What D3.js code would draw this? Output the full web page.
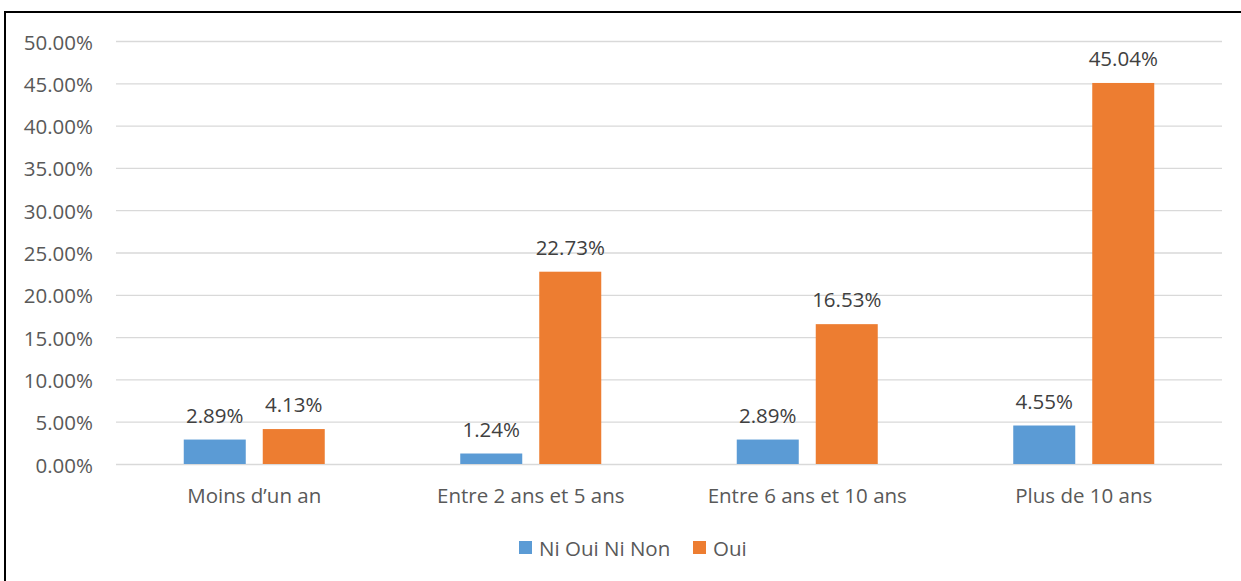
<!DOCTYPE html>
<html><head><meta charset="utf-8">
<script src="https://cdn.jsdelivr.net/npm/d3@7"></script>
<style>html,body{margin:0;padding:0;background:#fff;}svg{display:block;}</style>
</head><body>
<svg id="chart" width="1241" height="581"></svg>
<script>
const categories = ["Moins d\u2019un an", "Entre 2 ans et 5 ans", "Entre 6 ans et 10 ans", "Plus de 10 ans"];
const seriesNames = ["Ni Oui Ni Non", "Oui"];
const niOuiNiNon = [2.89, 1.24, 2.89, 4.55];
const oui = [4.13, 22.73, 16.53, 45.04];
const yTicks = [0, 5, 10, 15, 20, 25, 30, 35, 40, 45, 50];
const colors = ["#5B9BD5", "#ED7D31"];

(function () {
const FONT = "'Open Sans', sans-serif";
const FS = "20.5px";
const svg = d3.select("#chart");
svg.append("rect").attr("x", 5).attr("y", 12).attr("width", 1250).attr("height", 600)
  .attr("fill", "none").attr("stroke", "#000").attr("stroke-width", 2);

const mLeft = 116, mRight = 1222, mTop = 41, mBottom = 464;
const GW = 141;
const x = d3.scaleBand().domain(categories).range([mLeft, mRight]).paddingInner(0).paddingOuter(0);
const y = d3.scaleLinear().domain([0, 50]).range([mBottom, mTop]);
const inner = d3.scaleBand().domain(seriesNames).range([0, GW]).paddingInner(17 / 79).paddingOuter(0);

const yAxis = d3.axisLeft(y).tickValues(yTicks).tickSize(-(mRight - mLeft)).tickFormat(d => d.toFixed(2) + "%").tickPadding(23);
const ga = svg.append("g").attr("transform", `translate(${mLeft},0)`).call(yAxis);
ga.select(".domain").remove();
ga.selectAll(".tick line").attr("stroke", "#d9d9d9").attr("stroke-width", 1.3);
ga.selectAll(".tick text").attr("fill", "#595959").style("font-family", FONT).style("font-size", FS)
  .attr("dy", null).attr("dominant-baseline", "central");

const data = categories.map((c, i) => ({ cat: c, vals: [niOuiNiNon[i], oui[i]] }));
const groups = svg.selectAll("g.cat").data(data).join("g").attr("class", "cat")
  .attr("transform", d => `translate(${x(d.cat) + (x.bandwidth() - GW) / 2},0)`);
groups.selectAll("rect").data(d => d.vals.map((v, j) => ({ v, s: seriesNames[j], j })))
  .join("rect")
  .attr("x", d => inner(d.s)).attr("width", inner.bandwidth())
  .attr("y", d => y(d.v)).attr("height", d => y(0) - y(d.v))
  .attr("fill", d => colors[d.j]);
groups.selectAll("text").data(d => d.vals.map((v, j) => ({ v, s: seriesNames[j], j })))
  .join("text")
  .attr("x", d => inner(d.s) + inner.bandwidth() / 2)
  .attr("y", d => y(d.v) - 25)
  .attr("text-anchor", "middle").attr("dominant-baseline", "central")
  .attr("fill", "#404040").style("font-family", FONT).style("font-size", FS)
  .text(d => d.v.toFixed(2) + "%");

const xAxis = d3.axisBottom(x).tickSize(0);
const gx = svg.append("g").attr("transform", `translate(0,${mBottom})`).call(xAxis);
gx.select(".domain").remove();
gx.selectAll(".tick text").attr("fill", "#595959").style("font-family", FONT).style("font-size", FS)
  .attr("y", 31).attr("dy", null).attr("dominant-baseline", "central");

const leg = svg.append("g");
const legItems = [{ n: seriesNames[0], x: 519 }, { n: seriesNames[1], x: 693 }];
legItems.forEach((it, i) => {
  leg.append("rect").attr("x", it.x).attr("y", 541).attr("width", 13).attr("height", 13).attr("fill", colors[i]);
  leg.append("text").attr("x", it.x + 20).attr("y", 548).attr("dominant-baseline", "central")
    .attr("fill", "#595959").style("font-family", FONT).style("font-size", FS).text(it.n);
});
})();
</script>
</body></html>
